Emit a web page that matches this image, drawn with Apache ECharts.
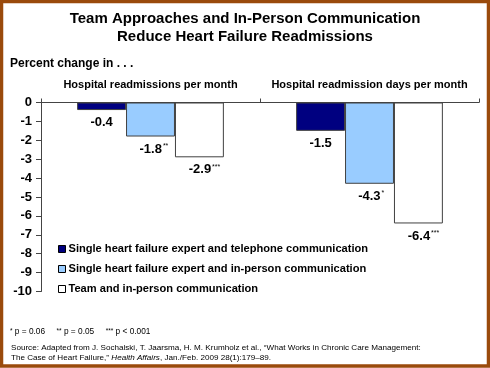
<!DOCTYPE html>
<html>
<head>
<meta charset="utf-8">
<script src="https://cdn.jsdelivr.net/npm/echarts@6/dist/echarts.min.js"></script>
<style>
html,body{margin:0;padding:0;background:#fff;}
#c{width:490px;height:368px;}
</style>
</head>
<body>
<div id="c"></div>
<script>
const categories = ['Hospital readmissions per month', 'Hospital readmission days per month'];
const seriesNames = [
  'Single heart failure expert and telephone communication',
  'Single heart failure expert and in-person communication',
  'Team and in-person communication'
];
const phoneValues = [-0.4, -1.5];
const inPersonValues = [-1.8, -4.3];
const teamValues = [-2.9, -6.4];
const phoneStars = ['', ''];
const inPersonStars = ['**', '*'];
const teamStars = ['***', '***'];
const yTicks = [0, -1, -2, -3, -4, -5, -6, -7, -8, -9, -10];

const FONT = '"Liberation Sans", Arial, sans-serif';
const colors = ['#000080', '#99CCFF', '#FFFFFF'];
const allValues = [phoneValues, inPersonValues, teamValues];
const allStars = [phoneStars, inPersonStars, teamStars];

const chart = echarts.init(document.getElementById('c'), null, {renderer: 'canvas'});

const series = allValues.map((vals, si) => ({
  name: seriesNames[si],
  type: 'bar',
  barGap: 0,
  barCategoryGap: '33%',
  itemStyle: {color: colors[si], borderColor: '#404040', borderWidth: 1},
  data: vals.map((v, i) => ({
    value: v,
    label: {offset: [allStars[si][i].length * 1.7, 0]}
  })),
  label: {
    show: true,
    position: 'bottom',
    distance: 6,
    formatter: p => '{v|' + p.value.toFixed(1) + '}' + (allStars[si][p.dataIndex] ? '{s|' + allStars[si][p.dataIndex] + '}' : ''),
    rich: {
      v: {fontSize: 13, fontWeight: 'bold', color: '#000', fontFamily: FONT, letterSpacing: -0.5},
      s: {fontSize: 7, color: '#000', fontFamily: FONT, verticalAlign: 'top', padding: [0, 0, 6, 1]}
    }
  }
}));

const option = {
  backgroundColor: '#fff',
  animation: false,
  title: {
    text: 'Team Approaches and In-Person Communication\nReduce Heart Failure Readmissions',
    left: 'center',
    top: 5,
    textStyle: {fontSize: 15, fontWeight: 'bold', fontFamily: FONT, color: '#000', lineHeight: 18}
  },
  grid: {left: 41, right: 11, top: 102.5, bottom: 76.5, containLabel: false},
  xAxis: {
    type: 'category',
    position: 'top',
    data: categories,
    axisLine: {show: true, onZero: false, lineStyle: {color: '#444', width: 1}},
    axisTick: {show: true, length: 4, lineStyle: {color: '#444'}},
    axisLabel: {margin: 12, fontSize: 11, fontWeight: 'bold', fontFamily: FONT, color: '#000', interval: 0}
  },
  yAxis: {
    type: 'value',
    min: -10,
    max: 0,
    interval: 1,
    splitLine: {show: false},
    axisLine: {show: true, lineStyle: {color: '#444', width: 1}},
    axisTick: {show: true, length: 5, lineStyle: {color: '#444'}},
    axisLabel: {margin: 9, fontSize: 13, fontWeight: 'bold', fontFamily: FONT, color: '#000',
      lineHeight: 13, padding: [3, 0, 0, 0],
      formatter: v => yTicks.includes(v) ? String(v) : ''}
  },
  legend: {
    orient: 'vertical',
    left: 53,
    top: 238,
    itemWidth: 7,
    itemHeight: 7,
    itemGap: 8,
    icon: 'rect',
    data: seriesNames.map((n, i) => ({name: n, itemStyle: {color: colors[i], borderColor: '#000', borderWidth: 1}})),
    textStyle: {fontSize: 11.1, fontWeight: 'bold', fontFamily: FONT, color: '#000', lineHeight: 12, padding: [0, 0, 0, -2]}
  },
  graphic: [
    {type: 'text', left: 10, top: 58, style: {text: 'Percent change in . . .', font: 'bold 12px ' + FONT, fill: '#000'}},
    {type: 'text', left: 10, top: 328, style: {
      text: '{s|*} p = 0.06     {s|**} p = 0.05     {s|***} p < 0.001',
      font: '8.3px ' + FONT, fill: '#000',
      rich: {s: {fontSize: 6.5, verticalAlign: 'top', fontFamily: FONT}}
    }},
    {type: 'text', left: 11, top: 344, style: {
      text: 'Source: Adapted from J. Sochalski, T. Jaarsma, H. M. Krumholz et al., \u201cWhat Works in Chronic Care Management:',
      font: '8.1px ' + FONT, fill: '#000'
    }},
    {type: 'text', left: 11, top: 353.5, style: {
      text: 'The Case of Heart Failure,\u201d {i|Health Affairs}, Jan./Feb. 2009 28(1):179\u201389.',
      font: '8.1px ' + FONT, fill: '#000',
      rich: {i: {fontStyle: 'italic', fontSize: 8.1, fontFamily: FONT}}
    }},
    {type: 'rect', z: 100, shape: {x: 1.5, y: 1.5, width: 487, height: 364.5},
      style: {fill: null, stroke: '#9A4A0C', lineWidth: 3.5}}
  ],
  series: series
};
chart.setOption(option);
</script>
</body>
</html>
